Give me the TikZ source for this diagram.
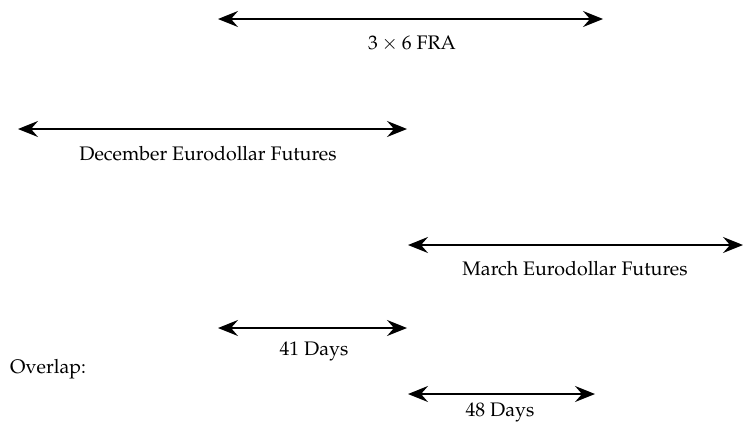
\documentclass[tikz,border=0pt]{standalone}
\usepackage[T1]{fontenc}
\usepackage{mathpazo}
\usepackage{tikz}
\usetikzlibrary{arrows.meta}

\begin{document}
\begin{tikzpicture}[x=1pt,y=-1pt,
    span/.style={{Stealth[length=20pt,width=16pt,inset=7pt]}-{Stealth[length=20pt,width=16pt,inset=7pt]}, line width=1.5pt},
    lbl/.style={font=\fontsize{19.6}{22}\selectfont, inner sep=0pt}]
    \useasboundingbox (0,0) rectangle (743,421);
    % end points of the periods
    \coordinate (fraL) at (218,19);  \coordinate (fraR) at (603,19);
    \coordinate (decL) at (18,129);  \coordinate (decR) at (407,129);
    \coordinate (marL) at (408,245); \coordinate (marR) at (743,245);
    \coordinate (oaL) at (218,328);  \coordinate (oaR) at (407,328);
    \coordinate (obL) at (408,394);  \coordinate (obR) at (595,394);
    \draw[span] (fraL) -- (fraR);
    \draw[span] (decL) -- (decR);
    \draw[span] (marL) -- (marR);
    \draw[span] (oaL) -- (oaR);
    \draw[span] (obL) -- (obR);
    \node[lbl] (fra) at (412,44) {$3\times6$ FRA};
    \node[lbl] (dec) at (208,154) {December Eurodollar Futures};
    \node[lbl] (mar) at (575,269) {March Eurodollar Futures};
    \node[lbl] (oa) at (314,351) {41 Days};
    \node[lbl] (ob) at (500,412) {48 Days};
    \node[lbl, anchor=west] (ovl) at (10,369) {Overlap:};
\end{tikzpicture}
\end{document}
